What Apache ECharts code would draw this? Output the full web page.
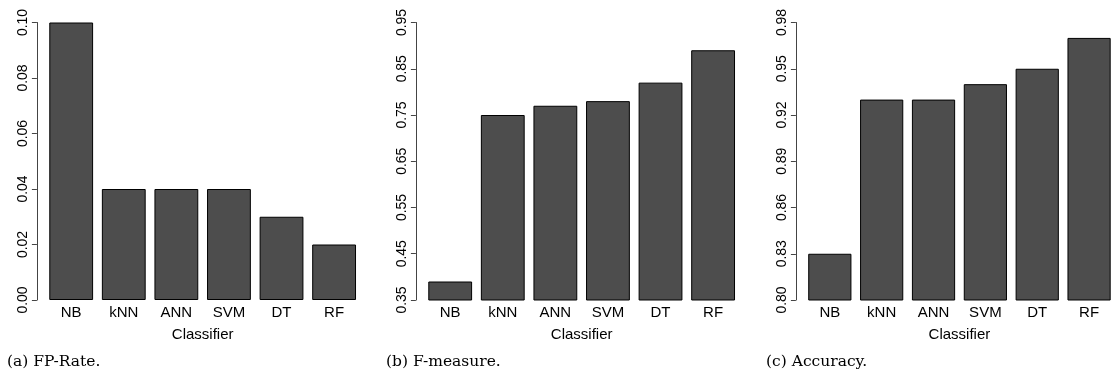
<!DOCTYPE html>
<html>
<head>
<meta charset="utf-8">
<script src="https://cdn.jsdelivr.net/npm/echarts@6/dist/echarts.min.js"></script>
<style>
html,body{margin:0;padding:0;background:#fff;}
#c{width:1115px;height:377px;}
</style>
</head>
<body>
<div id="c"></div>
<script>
var categories = ['NB', 'kNN', 'ANN', 'SVM', 'DT', 'RF'];
var fpRate = [0.10, 0.04, 0.04, 0.04, 0.03, 0.02];
var fMeasure = [0.39, 0.75, 0.77, 0.78, 0.82, 0.89];
var accuracy = [0.83, 0.93, 0.93, 0.94, 0.95, 0.97];
var fpTicks = [0.00, 0.02, 0.04, 0.06, 0.08, 0.10];
var fmTicks = [0.35, 0.45, 0.55, 0.65, 0.75, 0.85, 0.95];
var accTicks = [0.80, 0.83, 0.86, 0.89, 0.92, 0.95, 0.98];
var captions = ['(a) FP-Rate.', '(b) F-measure.', '(c) Accuracy.'];
var xName = 'Classifier';

var chart = echarts.init(document.getElementById('c'), null, {renderer: 'canvas'});
var font = "'Liberation Sans', Arial, Helvetica, sans-serif";
var gridLefts = [44.9, 423.9, 803.9];
var captionLefts = [7, 386, 766];
var datasets = [fpRate, fMeasure, accuracy];
var ticks = [fpTicks, fmTicks, accTicks];

var grids = [], xAxes = [], yAxes = [], series = [], titles = [];
for (var i = 0; i < 3; i++) {
  var t = ticks[i];
  grids.push({left: gridLefts[i], top: 22.5, width: 315.5, height: 277.5, containLabel: false});
  xAxes.push({
    type: 'category', gridIndex: i, data: categories,
    axisLine: {show: false}, axisTick: {show: false},
    axisLabel: {color: '#000', fontFamily: font, fontSize: 15, margin: 5},
    name: xName, nameLocation: 'middle', nameGap: 27,
    nameTextStyle: {color: '#000', fontFamily: font, fontSize: 15}
  });
  yAxes.push({
    type: 'value', gridIndex: i, min: t[0], max: t[t.length - 1],
    offset: 8,
    axisLine: {show: true, lineStyle: {color: '#444', width: 1}},
    axisTick: {show: true, length: 5, inside: false, customValues: t, lineStyle: {color: '#444', width: 1}},
    splitLine: {show: false},
    axisLabel: {
      show: true, customValues: t, rotate: 90, margin: 7,
      color: '#000', fontFamily: font, fontSize: 14,
      formatter: function (v) { return v.toFixed(2); }
    }
  });
  series.push({
    type: 'bar', xAxisIndex: i, yAxisIndex: i, data: datasets[i],
    barCategoryGap: '16.67%',
    itemStyle: {color: '#4d4d4d', borderColor: '#000', borderWidth: 1},
    silent: true, animation: false
  });
  titles.push({
    text: captions[i], left: captionLefts[i], top: 354,
    textStyle: {fontFamily: "'DejaVu Serif', serif", fontSize: 15.5, fontWeight: 'normal', color: '#000'},
    padding: 0
  });
}

chart.setOption({
  animation: false,
  title: titles,
  grid: grids,
  xAxis: xAxes,
  yAxis: yAxes,
  series: series
});
</script>
</body>
</html>
